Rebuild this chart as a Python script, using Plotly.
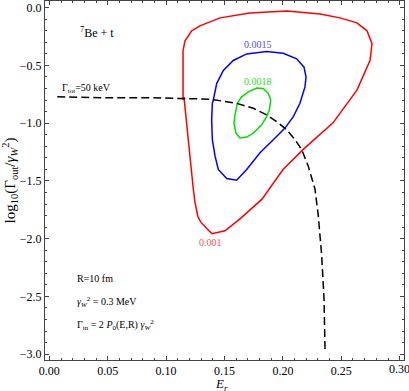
import plotly.graph_objects as go

# contour 0.001 (red)
red_x = [0.1145, 0.1142, 0.1145, 0.1162, 0.1219, 0.1290, 0.1461, 0.1718, 0.2035, 0.2318,
         0.2489, 0.2634, 0.2720, 0.2763, 0.2746, 0.2634, 0.2429, 0.2172, 0.2001, 0.1821,
         0.1633, 0.1504, 0.1393, 0.1350, 0.1296, 0.1273, 0.1247, 0.1233, 0.1213, 0.1185,
         0.1153, 0.1145]
red_y = [-0.800, -0.509, -0.371, -0.286, -0.200, -0.157, -0.088, -0.045, -0.028, -0.054,
         -0.088, -0.131, -0.200, -0.311, -0.457, -0.714, -0.997, -1.229, -1.401, -1.658,
         -1.829, -1.932, -1.958, -1.915, -1.855, -1.812, -1.684, -1.572, -1.375, -1.057,
         -0.774, -0.800]

# contour 0.0015 (blue)
blue_x = [0.1404, 0.1433, 0.1490, 0.1575, 0.1690, 0.1861, 0.2003, 0.2118, 0.2181, 0.2198,
          0.2189, 0.2146, 0.2089, 0.2018, 0.1918, 0.1804, 0.1690, 0.1604, 0.1519, 0.1447,
          0.1419, 0.1396, 0.1390, 0.1396, 0.1404]
blue_y = [-0.800, -0.657, -0.543, -0.457, -0.400, -0.380, -0.395, -0.443, -0.515, -0.600,
          -0.686, -0.828, -0.943, -1.043, -1.143, -1.257, -1.401, -1.494, -1.480, -1.401,
          -1.286, -1.143, -0.972, -0.828, -0.800]

# contour 0.0018 (green)
green_x = [0.1590, 0.1610, 0.1647, 0.1704, 0.1776, 0.1832, 0.1875, 0.1896, 0.1884, 0.1861,
           0.1818, 0.1747, 0.1690, 0.1633, 0.1598, 0.1581, 0.1590]
green_y = [-0.929, -0.828, -0.772, -0.729, -0.695, -0.700, -0.743, -0.800, -0.886, -0.943,
           -1.015, -1.086, -1.120, -1.129, -1.086, -1.000, -0.929]

# Gamma_tot = 50 keV curve
tot_x = [0.0068, 0.0434, 0.0862, 0.1119, 0.1376, 0.1604, 0.1747, 0.1861, 0.1947, 0.2033,
         0.2104, 0.2161, 0.2217, 0.2275, 0.2303, 0.2332, 0.2352, 0.2361]
tot_y = [-0.772, -0.779, -0.780, -0.787, -0.792, -0.828, -0.871, -0.929, -0.986, -1.058,
         -1.143, -1.229, -1.372, -1.572, -1.801, -2.144, -2.516, -2.973]

x_ticks = [0.00, 0.05, 0.10, 0.15, 0.20, 0.25, 0.30]
x_labels = ["0.00", "0.05", "0.10", "0.15", "0.20", "0.25", "0.30"]

serif = "Liberation Serif, Times New Roman, serif"

fig = go.Figure()
fig.add_trace(go.Scatter(x=red_x, y=red_y, mode="lines", line=dict(color="#ff0000", width=1.5)))
fig.add_trace(go.Scatter(x=blue_x, y=blue_y, mode="lines", line=dict(color="#0000ff", width=1.5)))
fig.add_trace(go.Scatter(x=green_x, y=green_y, mode="lines", line=dict(color="#00e000", width=1.5)))
fig.add_trace(go.Scatter(x=tot_x, y=tot_y, mode="lines", line=dict(color="black", width=1.5, dash="8px,4px")))

notes = [
    (0.1384, -2.03, "0.001", "#ff5050", 10, "center"),
    (0.179, -0.32, "0.0015", "#5050ff", 10, "center"),
    (0.179, -0.643, "0.0018", "#30dd30", 10, "center"),
    (0.0246, -0.218, "<sup>7</sup>Be + t", "black", 12, "left"),
    (0.0092, -0.70, "Γ<sub>tot</sub>=50 keV", "black", 10, "left"),
    (0.022, -2.343, "R=10 fm", "black", 10, "left"),
    (0.022, -2.55, "<i>γ</i><sub><i>W</i></sub><sup>2</sup> = 0.3 MeV", "black", 10, "left"),
    (0.022, -2.75, "Γ<sub>in</sub> = 2 <i>P</i><sub>0</sub>(E,R) <i>γ</i><sub><i>W</i></sub><sup>2</sup>", "black", 10, "left"),
]
for x, y, t, c, s, a in notes:
    fig.add_annotation(x=x, y=y, text=t, showarrow=False, xanchor=a, yanchor="middle",
                       font=dict(family=serif, size=s, color=c))

# x-axis title, set just below the tick labels
fig.add_annotation(x=0.1475, xref="x", y=0, yref="paper", yshift=-24, text="<i>E<sub>r</sub></i>",
                   showarrow=False, xanchor="center", yanchor="middle",
                   font=dict(family=serif, size=13, color="black"))

# the last x tick label runs past the figure edge, where plotly drops it; draw it as text
fig.add_annotation(x=x_ticks[-1], xref="x", y=0, yref="paper", yshift=-9, text=x_labels[-1],
                   showarrow=False, xanchor="center", yanchor="middle",
                   font=dict(family=serif, size=12, color="black"))
shown_labels = x_labels[:-1] + [""]

axis_common = dict(showgrid=False, zeroline=False, showline=True, linecolor="#444", linewidth=1,
                   mirror="ticks", ticks="inside", ticklen=4, tickcolor="#444", automargin=False,
                   ticklabeloverflow="allow",
                   tickfont=dict(family=serif, size=12, color="black"))

fig.update_xaxes(range=[-0.0037, 0.3037], tickmode="array", tickvals=x_ticks, ticktext=shown_labels,
                 minor=dict(dtick=0.01, tick0=0, ticks="inside", ticklen=2, tickcolor="#444"),
                 **axis_common)
fig.update_yaxes(range=[-3.051, 0.058], tick0=0, dtick=0.5, tickformat=".1f",
                 minor=dict(dtick=0.1, ticks="inside", ticklen=2, tickcolor="#444"),
                 title=dict(text="log<sub>10</sub>(Γ<sub>out</sub>/<i>γ</i><sub><i>W</i></sub><sup>2</sup>)",
                            font=dict(family=serif, size=15, color="black"), standoff=2),
                 **axis_common)

fig.update_layout(width=409, height=391, margin=dict(l=45, r=5, t=1, b=31),
                  plot_bgcolor="white", paper_bgcolor="white", showlegend=False)

# drop the browser's default 8px body margin so the figure sits at the window's corner
fig.write_html("out.html", config={"displayModeBar": False},
               post_script="document.body.style.margin='0';")
